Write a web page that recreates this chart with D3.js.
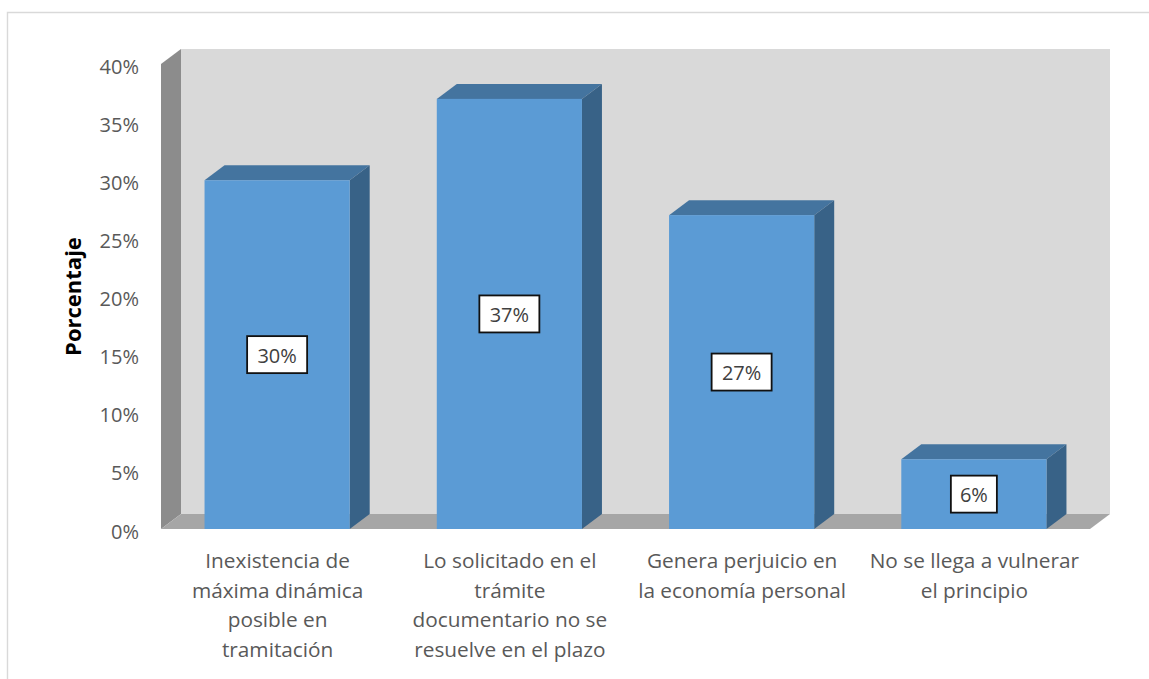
<!DOCTYPE html>
<html>
<head>
<meta charset="utf-8">
<script src="https://cdn.jsdelivr.net/npm/d3@7/dist/d3.min.js"></script>
<style>
html,body{margin:0;padding:0;background:#fff;}
svg{display:block;}
text{font-family:"Open Sans",sans-serif;}
</style>
</head>
<body>
<svg id="chart" width="1149" height="679"></svg>
<script>
const categories = [
  ["Inexistencia de","máxima dinámica","posible en","tramitación"],
  ["Lo solicitado en el","trámite","documentario no se","resuelve en el plazo"],
  ["Genera perjuicio en","la economía personal"],
  ["No se llega a vulnerar","el principio"]
];
const values = [30, 37, 27, 6];
const valueLabels = ["30%", "37%", "27%", "6%"];
const tickValues = [0, 5, 10, 15, 20, 25, 30, 35, 40];
const axisTitle = "Porcentaje";

const svg = d3.select("#chart");
const dx = 20, dy = 15;
const x = d3.scaleBand().domain(d3.range(categories.length)).range([161, 1090]).paddingInner(0.375).paddingOuter(0.1875);
const y = d3.scaleLinear().domain([0, 40]).range([529, 64]);
const poly = pts => pts.map(p => p.join(",")).join(" ");

// outer frame (cropped chart border)
svg.append("path").attr("d", "M7.5,679V12.5H1149").attr("fill", "none").attr("stroke", "#d9d9d9").attr("stroke-width", 1.4);

const x0 = x.range()[0], x1 = x.range()[1], yb = y(0), yt = y(40);
// back wall
svg.append("polygon").attr("points", poly([[x0+dx,yt-dy],[x1+dx,yt-dy],[x1+dx,yb-dy],[x0+dx,yb-dy]])).attr("fill", "#d9d9d9");
// side wall
svg.append("polygon").attr("points", poly([[x0,yt],[x0+dx,yt-dy],[x0+dx,yb-dy],[x0,yb]])).attr("fill", "#8c8c8c");
// floor
svg.append("polygon").attr("points", poly([[x0,yb],[x0+dx,yb-dy],[x1+dx,yb-dy],[x1,yb]])).attr("fill", "#a6a6a6");

// bars
const bars = svg.selectAll("g.bar").data(values).join("g").attr("class", "bar");
bars.append("polygon").attr("fill", "#44749f")
  .attr("points", (d,i) => { const l=x(i), r=l+x.bandwidth(), t=y(d); return poly([[l,t],[l+dx,t-dy],[r+dx,t-dy],[r,t]]); });
bars.append("polygon").attr("fill", "#386287")
  .attr("points", (d,i) => { const r=x(i)+x.bandwidth(), t=y(d); return poly([[r,t],[r+dx,t-dy],[r+dx,yb-dy],[r,yb]]); });
bars.append("rect").attr("fill", "#5b9bd5")
  .attr("x", (d,i) => x(i)).attr("y", d => y(d)).attr("width", x.bandwidth()).attr("height", d => yb - y(d));

// data labels
const boxW = [60, 60, 60, 46], boxH = 37;
const lab = svg.selectAll("g.lab").data(values).join("g").attr("class", "lab")
  .attr("transform", (d,i) => `translate(${x(i)+x.bandwidth()/2},${(y(d)+yb)/2})`);
lab.append("rect").attr("x", (d,i) => -boxW[i]/2).attr("y", -boxH/2).attr("width", (d,i) => boxW[i]).attr("height", boxH)
  .attr("fill", "#fff").attr("stroke", "#111").attr("stroke-width", 1.8);
lab.append("text").attr("text-anchor", "middle").attr("y", 8).attr("font-size", 20).attr("fill", "#404040")
  .text((d,i) => valueLabels[i]);

// y axis
const axis = d3.axisLeft(y).tickValues(tickValues).tickSize(0).tickPadding(22).tickFormat(d => d + "%");
const gy = svg.append("g").attr("transform", `translate(${x0},0)`).call(axis);
gy.select(".domain").remove();
gy.selectAll("text").attr("font-size", 20).attr("fill", "#595959").attr("dy", "0.45em").style("font-family", '"Open Sans",sans-serif');

// axis title
svg.append("text").attr("transform", "translate(81,296.5) rotate(-90)").attr("text-anchor", "middle")
  .attr("font-size", 22).attr("font-weight", 700).attr("fill", "#000").text(axisTitle);

// category labels
const cat = svg.selectAll("text.cat").data(categories).join("text").attr("class", "cat")
  .attr("text-anchor", "middle").attr("font-size", 20.8).attr("fill", "#595959");
cat.selectAll("tspan").data((d,i) => d.map(s => ({s,i}))).join("tspan")
  .attr("x", d => x(d.i) + x.bandwidth()/2 + 0.5)
  .attr("y", (d,j) => 568 + j*29.5)
  .text(d => d.s);
</script>
</body>
</html>
